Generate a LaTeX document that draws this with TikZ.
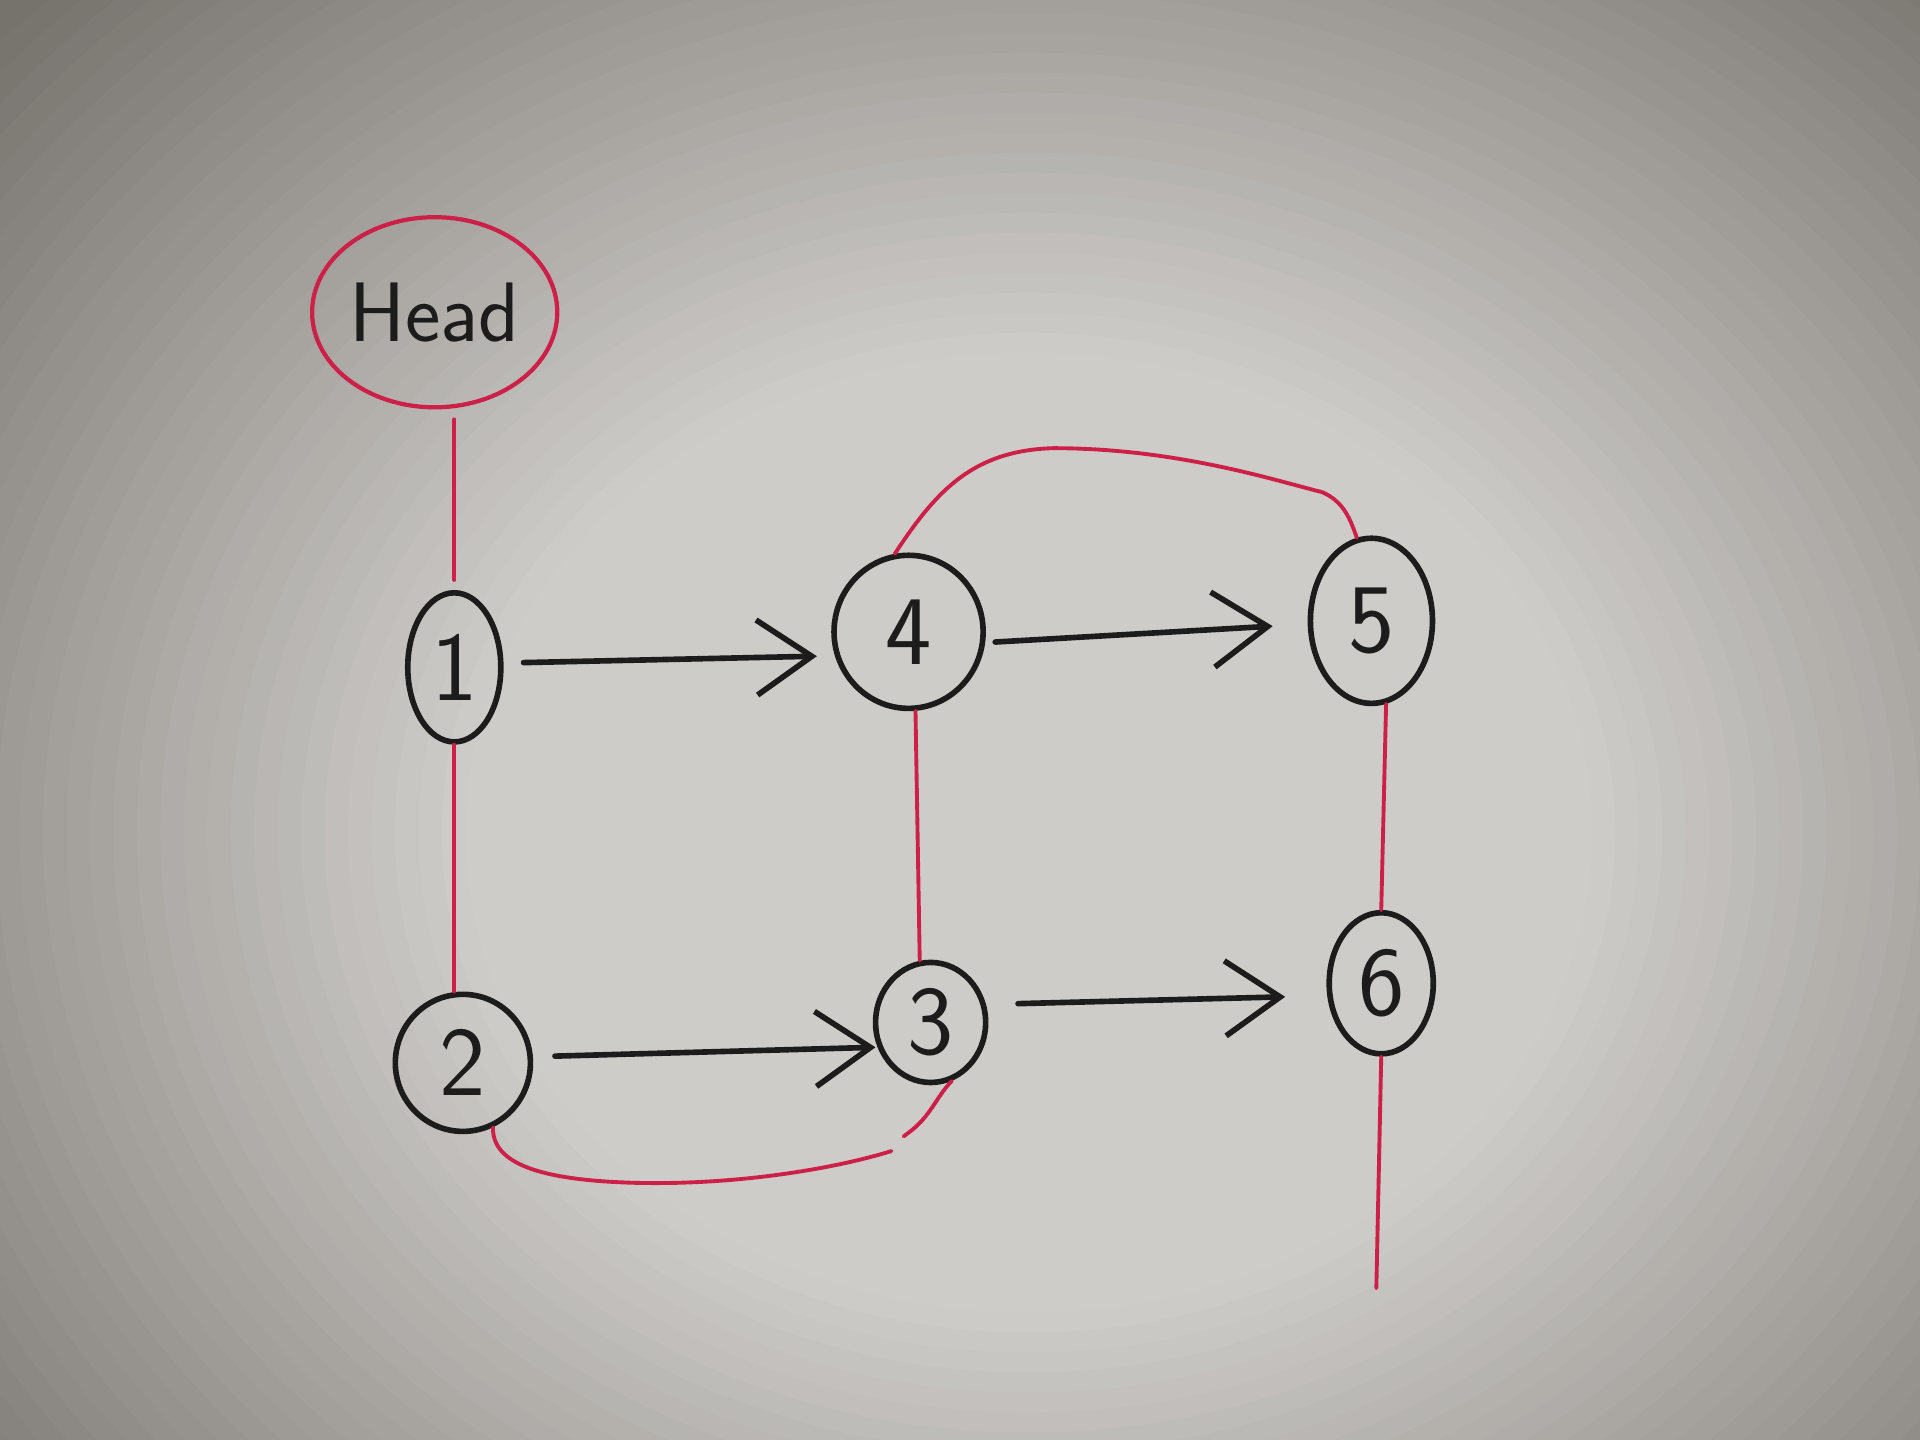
\documentclass[tikz,border=0pt]{standalone}
\usetikzlibrary{shapes.geometric,arrows.meta}
\definecolor{paperhi}{RGB}{206,204,201}
\definecolor{paperdk}{RGB}{118,114,108}
\definecolor{ink}{RGB}{28,28,28}
\definecolor{redink}{RGB}{205,32,72}
\begin{document}
\begin{tikzpicture}[x=0.012245cm,y=-0.012245cm,
  nd/.style={ellipse,draw=ink,line width=1.6pt,inner sep=0pt,text=ink,
    font=\sffamily\fontsize{28}{30}\selectfont},
  headnd/.style={ellipse,draw=redink,line width=1.2pt,inner sep=0pt,text=ink,
    font=\sffamily\fontsize{24}{26}\selectfont},
  link/.style={draw=redink,line width=1.1pt,line cap=round},
  ptr/.style={draw=ink,line width=1.6pt,line cap=round,
    -{Straight Barb[length=5.5mm,width=7.5mm,line width=1.6pt]}}]
\useasboundingbox (0,0) rectangle (1568,1176);
\begin{scope}
\clip (0,0) rectangle (1568,1176);
\fill[paperdk] (0,0) rectangle (1568,1176);
\foreach \i in {0,...,59}{
  \pgfmathsetmacro\s{1-\i/60}
  \pgfmathtruncatemacro\f{min(100,170*\i/60)}
  \fill[paperhi!\f!paperdk] (840,680) ellipse [x radius=1150*\s, y radius=980*\s];
}
\end{scope}
% nodes
\node[headnd,minimum width=2.45cm,minimum height=1.9cm] (head) at (355,255) {Head};
\node[nd,minimum width=0.93cm,minimum height=1.49cm] (n1) at (371,545) {1};
\node[nd,minimum width=1.49cm,minimum height=1.53cm] (n4) at (742,516) {4};
\node[nd,minimum width=1.22cm,minimum height=1.65cm] (n5) at (1120,507) {5};
\node[nd,minimum width=1.35cm,minimum height=1.37cm] (n2) at (378,868) {2};
\node[nd,minimum width=1.10cm,minimum height=1.20cm] (n3) at (760,835) {3};
\node[nd,minimum width=1.04cm,minimum height=1.41cm] (n6) at (1128,803) {6};
\coordinate (tail) at (1124,1052);
% red links
\draw[link,shorten <=0.1cm,shorten >=0.1cm] (head.south -| n1.north) -- (n1.north);
\draw[link] (n1.south) -- (n1.south |- n2.north);
\draw[link] (n4.275) -- (n3.100);
\draw[link] (n5.280) -- (n6.north);
\draw[link] (n6.south) -- (tail);
\draw[link] (n4.100) .. controls (765,400) and (795,368) .. (860,366)
  .. controls (960,366) and (1040,392) .. (1080,402)
  .. controls (1098,410) and (1103,425) .. (n5.100);
\draw[link] (n2.295) .. controls (402,950) and (440,964) .. (520,966)
  .. controls (610,968) and (690,952) .. (728,940);
\draw[link] (738,928) -- (742,925) .. controls (760,912) and (765,895) .. (n3.290);
% black pointers
\draw[ptr,shorten <=0.2cm,shorten >=0.18cm] (n1.5) -- (n4.198);
\draw[ptr,shorten <=0.1cm,shorten >=0.35cm] (n4.352) -- (n5.183);
\draw[ptr,shorten <=0.22cm,shorten >=0.02cm] (n2.5) -- (n3.205);
\draw[ptr,shorten <=0.32cm,shorten >=0.42cm] (n3.18) -- (n6.193);
\end{tikzpicture}
\end{document}
